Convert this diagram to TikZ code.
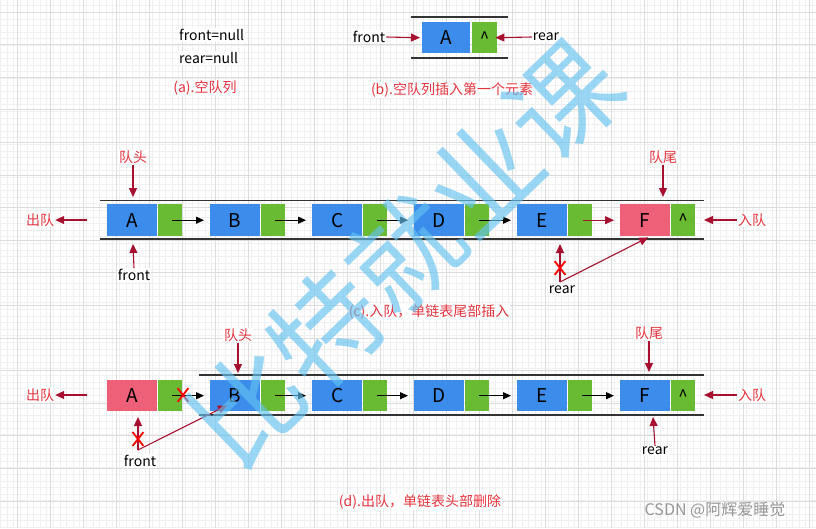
\documentclass[tikz,border=0pt]{standalone}
\usepackage{fontspec}
\setmainfont{Noto Sans CJK SC}
\usetikzlibrary{arrows.meta,shapes.misc,calc}
\definecolor{nblue}{RGB}{59,140,235}
\definecolor{ngreen}{RGB}{106,187,52}
\definecolor{npink}{RGB}{238,95,120}
\definecolor{darr}{RGB}{168,16,48}
\definecolor{lred}{RGB}{230,50,60}
\definecolor{wmblue}{RGB}{100,195,240}
\definecolor{gminor}{RGB}{240,240,240}
\definecolor{gmajor}{RGB}{220,220,220}
\tikzset{
  mainbox/.style={fill=nblue, minimum width=50pt, minimum height=32pt, inner sep=0pt, anchor=north west, font=\fontsize{19}{19}\selectfont},
  ptrbox/.style={fill=ngreen, minimum width=24pt, minimum height=32pt, inner sep=0pt, anchor=north west, font=\fontsize{17}{17}\selectfont},
  blk/.style={-{Triangle[length=8pt,width=7pt]}, line width=1.1pt},
  rarr/.style={darr, -{Triangle[length=9pt,width=8pt]}, line width=1.1pt},
  rail/.style={line width=1.4pt, black!80},
  lbl/.style={text=lred, font=\fontsize{14}{14}\selectfont, fill=white, inner sep=1pt},
  txt/.style={font=\fontsize{14}{14}\selectfont, fill=white, inner sep=1pt},
  xmark/.style={cross out, draw=red, line width=1.8pt, minimum width=9pt, minimum height=12pt, inner sep=0pt},
  minorg/.style={gminor, line width=0.5pt},
  majorg/.style={gmajor, line width=0.7pt}
}
\begin{document}
\begin{tikzpicture}[x=1pt,y=-1pt]
\useasboundingbox (0,0) rectangle (816,528);
\fill[white] (0,0) rectangle (816,528);
% background grid
\foreach \i in {0,...,124} \draw[minorg] ({0.5+\i*6.6},0) -- ({0.5+\i*6.6},528);
\foreach \i in {0,...,80} \draw[minorg] (0,{-1+\i*6.6}) -- (816,{-1+\i*6.6});
\foreach \i in {0,...,24} \draw[majorg] ({17+\i*33},0) -- ({17+\i*33},528);
\foreach \i in {0,...,16} \draw[majorg] (0,{12+\i*32.6}) -- (816,{12+\i*32.6});

% ---------- (a) ----------
\node[txt, anchor=west] (fn) at (178,35) {front=null};
\node[txt, anchor=west] (rn) at (178,58) {rear=null};
\node[lbl] (la) at (205,88) {(a).空队列};

% ---------- (b) ----------
\draw[rail] (411,17) -- (508,17);
\draw[rail] (411,58) -- (508,58);
\node[mainbox, minimum height=31pt, minimum width=48pt] (bA) at (422,22) {A};
\node[ptrbox, minimum height=31pt, minimum width=25pt] (bP) at (472,22) {\textasciicircum};
\node[txt] (bfront) at (369,37) {front};
\node[txt] (brear) at (546,37) {rear};
\draw[rarr] (bfront.east) -- ($(bA.west)+(-2,0)$);
\draw[rarr] (brear.west) -- ($(bP.east)+(-2,0)$);
\node[lbl] (lb) at (452,90) {(b).空队列插入第一个元素};

% ---------- (c) ----------
\draw[rail] (100,200.7) -- (704,200.7);
\draw[rail] (100,239) -- (704,239);
\foreach \n/\x/\l in {1/107/A,2/210/B,3/312/C,4/414/D,5/517/E} {
  \node[mainbox] (cm\n) at (\x,204) {\l};
  \node[ptrbox] (cp\n) at (\x+51,204) {};
}
\node[mainbox, fill=npink] (cm6) at (620,204) {F};
\node[ptrbox] (cp6) at (671,204) {\textasciicircum};
\foreach \i/\j in {1/2,2/3,3/4,4/5}
  \draw[blk] ($(cp\i.center)+(2,0)$) -- ($(cm\j.west)+(-6,0)$);
\draw[rarr] ($(cp5.center)+(3,0)$) -- ($(cm6.west)+(-6,0)$);
% head / tail labels
\node[lbl] (cqh) at (133,157) {队头};
\draw[rarr] (cqh.south) -- (133,197);
\node[lbl] (cqt) at (663,157) {队尾};
\draw[rarr] (cqt.south) -- (663,197);
\node[lbl] (cout) at (40,220) {出队};
\coordinate (coutS) at (87,220);
\draw[rarr] (coutS) -- (cout.east);
\node[lbl] (cin) at (752,220) {入队};
\draw[rarr] (cin.west) -- (704,220);
% front / rear
\node[txt] (cfront) at (134,275) {front};
\draw[rarr] (cfront.north) -- (133,244);
\node[txt] (crear) at (562,290) {rear};
\coordinate (crearP) at (560,282);
\draw[rarr] (crearP) -- (560,244);
\node[xmark] (cx) at (560,268) {};
\draw[rarr] (crearP) -- ($(cm6.south)+(3,1)$);
\node[lbl] (lc) at (429,312) {(c).入队，单链表尾部插入};

% ---------- (d) ----------
\draw[rail] (199,375) -- (704,375);
\draw[rail] (199,415) -- (704,415);
\node[mainbox, fill=npink, minimum height=31pt] (dm1) at (107,380) {A};
\node[ptrbox, minimum height=31pt] (dp1) at (158,380) {};
\foreach \n/\x/\l in {2/210/B,3/312/C,4/414/D,5/517/E,6/620/F} {
  \node[mainbox, minimum height=31pt] (dm\n) at (\x,380) {\l};
}
\foreach \n/\x in {2/210,3/312,4/414,5/517} {
  \node[ptrbox, minimum height=31pt] (dp\n) at (\x+51,380) {};
}
\node[ptrbox, minimum height=31pt] (dp6) at (671,380) {\textasciicircum};
\foreach \i/\j in {1/2,2/3,3/4,4/5,5/6}
  \draw[blk] ($(dp\i.center)+(2,0)$) -- ($(dm\j.west)+(-6,0)$);
\node[xmark] (dx1) at (183,395) {};
\node[lbl] (dqh) at (238,335) {队头};
\draw[rarr] (dqh.south) -- (238,373);
\node[lbl] (dqt) at (649,333) {队尾};
\draw[rarr] (dqt.south) -- (649,372);
\node[lbl] (dout) at (40,395) {出队};
\coordinate (doutS) at (87,395);
\draw[rarr] (doutS) -- (dout.east);
\node[lbl] (din) at (752,395) {入队};
\draw[rarr] (din.west) -- (704,395);
\node[txt] (dfront) at (140,461) {front};
\coordinate (dfrontP) at (138,450);
\draw[rarr] (dfrontP) -- (138,417);
\node[xmark] (dx2) at (138,439) {};
\draw[rarr] (dfrontP) -- ($(dm2.south west)+(17,-6)$);
\node[txt] (drear) at (655,451) {rear};
\draw[rarr] (drear.north) -- (653,417);
\node[lbl] (ld) at (420,502) {(d).出队，单链表头部删除};

% ---------- watermarks ----------
\node[rotate=44, text=wmblue, opacity=0.65, font=\fontsize{110}{110}\selectfont] (wm) at (405,253) {比特就业课};
\node[text=gray!90, font=\fontsize{16}{16}\selectfont, opacity=0.9] (csdn) at (715,510) {CSDN @阿辉爱睡觉};
\end{tikzpicture}
\end{document}
